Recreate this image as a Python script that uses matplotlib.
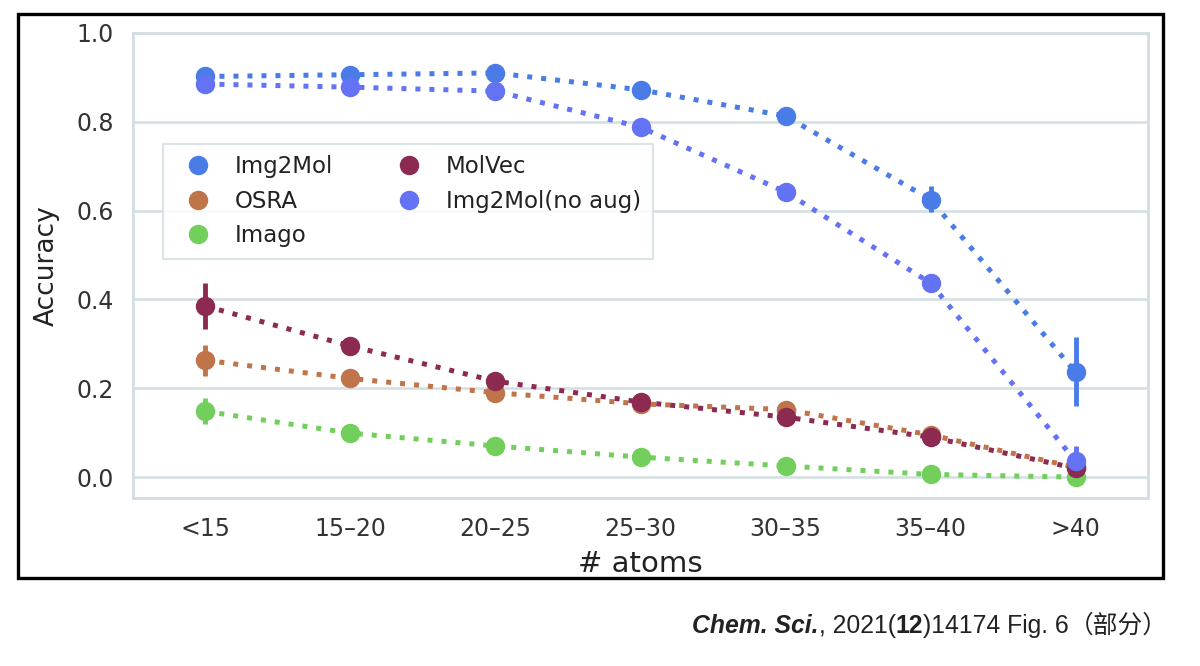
import matplotlib.pyplot as plt
from matplotlib.patches import Rectangle
from matplotlib.lines import Line2D

plt.rcParams['font.family'] = ['DejaVu Sans', 'Noto Sans CJK SC']

groups = ["<15", "15–20", "20–25", "25–30", "30–35", "35–40", ">40"]
series_names = ["Img2Mol", "OSRA", "Imago", "MolVec", "Img2Mol(no aug)"]

img2mol = [0.902, 0.906, 0.910, 0.872, 0.813, 0.625, 0.236]
img2mol_lo = [0.895, 0.900, 0.903, 0.864, 0.803, 0.597, 0.160]
img2mol_hi = [0.910, 0.913, 0.917, 0.880, 0.823, 0.655, 0.315]

osra = [0.263, 0.222, 0.190, 0.165, 0.152, 0.095, 0.022]
osra_lo = [0.228, 0.212, 0.181, 0.157, 0.144, 0.085, 0.015]
osra_hi = [0.297, 0.232, 0.199, 0.173, 0.160, 0.105, 0.030]

imago = [0.148, 0.099, 0.070, 0.045, 0.025, 0.006, 0.000]
imago_lo = [0.120, 0.092, 0.063, 0.040, 0.020, 0.003, 0.000]
imago_hi = [0.178, 0.106, 0.077, 0.050, 0.030, 0.009, 0.003]

molvec = [0.385, 0.295, 0.216, 0.169, 0.135, 0.090, 0.020]
molvec_lo = [0.333, 0.285, 0.206, 0.160, 0.120, 0.070, 0.010]
molvec_hi = [0.437, 0.305, 0.226, 0.178, 0.150, 0.110, 0.035]

noaug = [0.885, 0.878, 0.869, 0.788, 0.642, 0.437, 0.036]
noaug_lo = [0.878, 0.871, 0.862, 0.780, 0.625, 0.425, 0.012]
noaug_hi = [0.892, 0.885, 0.876, 0.796, 0.660, 0.449, 0.070]

colors = ["#4a7ce8", "#c0744a", "#72cf5c", "#8c2a52", "#6472f4"]

fig = plt.figure(figsize=(12, 6.66), dpi=100)
ax = fig.add_axes([0.1108, 0.2523, 0.8459, 0.6982])

x = list(range(len(groups)))
data = [
    (img2mol, img2mol_lo, img2mol_hi),
    (osra, osra_lo, osra_hi),
    (imago, imago_lo, imago_hi),
    (molvec, molvec_lo, molvec_hi),
    (noaug, noaug_lo, noaug_hi),
]
for (vals, lo, hi), c in zip(data, colors):
    err = [[v - l for v, l in zip(vals, lo)], [h - v for v, h in zip(vals, hi)]]
    ax.errorbar(x, vals, yerr=err, color=c, ecolor=c, elinewidth=3.5,
                linestyle=(0, (1, 1.8)), linewidth=3.6, marker='o',
                markersize=13, capsize=0)

grid_c = "#d3dee2"
ax.set_xlim(-0.5, 6.5)
ax.set_ylim(-0.047, 1.0)
ax.set_yticks([0.0, 0.2, 0.4, 0.6, 0.8, 1.0])
ax.set_yticklabels(["0.0", "0.2", "0.4", "0.6", "0.8", "1.0"])
ax.set_xticks(x)
ax.set_xticklabels(groups)
ax.tick_params(length=0, labelsize=17, colors="#333333", pad=14)
ax.grid(axis='y', color=grid_c, linewidth=1.8)
ax.set_axisbelow(True)
for s in ax.spines.values():
    s.set_color(grid_c)
    s.set_linewidth(2)
ax.set_ylabel("Accuracy", fontsize=19, color="#222222", labelpad=12)
ax.set_xlabel("# atoms", fontsize=21, color="#222222", labelpad=6)

handles = [Line2D([], [], linestyle='none', marker='o', markersize=13,
                  color=c) for c in colors]
leg = ax.legend(handles, series_names, ncol=2, fontsize=16.5,
                loc='upper left', bbox_to_anchor=(0.025, 0.772),
                frameon=True, handletextpad=0.6, columnspacing=2.35,
                labelspacing=0.5, borderpad=0.22)
leg.get_frame().set_edgecolor(grid_c)
leg.get_frame().set_linewidth(1.5)
leg.get_frame().set_boxstyle('square')
for t in leg.get_texts():
    t.set_color("#222222")

fig.add_artist(Rectangle((18 / 1200, 1 - 578 / 666), 1145 / 1200, 564 / 666,
                         transform=fig.transFigure, fill=False,
                         edgecolor='black', linewidth=2.4))

# caption, placed right to left
cap_font = ['Liberation Sans', 'Noto Sans CJK SC']
pieces = [("Chem. Sci.", 'bold', 'italic'), (", 2021(", 'normal', 'normal'),
          ("12", 'bold', 'normal'), (")14174 Fig. 6", 'normal', 'normal'),
          ("（部分）", 'normal', 'normal')]
renderer = fig.canvas.get_renderer()
xr = 1168
yb = 666 - 633
for txt, w, st in reversed(pieces):
    t = fig.text(xr / 1200, yb / 666, txt, ha='right', va='baseline',
                 fontsize=17.8, fontweight=w, fontstyle=st, family=cap_font,
                 color="#222222")
    bb = t.get_window_extent(renderer)
    xr -= bb.width

fig.savefig("out.png", dpi=100)
